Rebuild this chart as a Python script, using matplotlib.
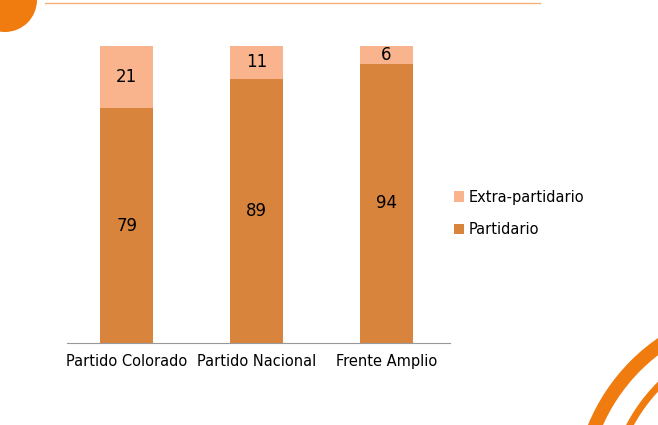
import matplotlib
matplotlib.use("Agg")
import matplotlib.pyplot as plt
from matplotlib.patches import Circle, Arc

parties = ["Partido Colorado", "Partido Nacional", "Frente Amplio"]
partidario = [79, 89, 94]
extra = [21, 11, 6]

C_PART = "#D9843D"
C_EXTRA = "#F9B48E"
ORANGE = "#F07C0F"

fig = plt.figure(figsize=(6.58, 4.25), dpi=100)
fig.patch.set_facecolor("white")

# slide decorations in pixel coordinates
deco = fig.add_axes([0, 0, 1, 1], zorder=0)
deco.set_xlim(0, 658)
deco.set_ylim(425, 0)
deco.axis("off")
deco.add_patch(Circle((5, 0), 32, color=ORANGE, lw=0))
deco.plot([45, 540], [3, 3], color="#F5B27A", lw=1)
for (cx, cy, r, w, c) in [(770, 500, 190, 10, ORANGE),
                          (780, 505, 170, 5, ORANGE),
                          (790, 510, 150, 3, "#F8A65C")]:
    deco.add_patch(Arc((cx, cy), 2 * r, 2 * r, theta1=180, theta2=270,
                       lw=w, color=c))

ax = fig.add_axes([0.102, 0.193, 0.582, 0.699], zorder=1)
ax.patch.set_alpha(0)
x = range(len(parties))
ax.bar(x, partidario, width=0.41, color=C_PART, label="Partidario")
ax.bar(x, extra, width=0.41, bottom=partidario, color=C_EXTRA, label="Extra-partidario")

for i in x:
    ax.text(i, partidario[i] / 2, str(partidario[i]), ha="center", va="center", fontsize=12)
    ax.text(i, partidario[i] + extra[i] / 2, str(extra[i]), ha="center", va="center", fontsize=12)

ax.set_xlim(-0.46, 2.49)
ax.set_ylim(0, 100)
ax.set_xticks(list(x))
ax.set_xticklabels(parties, fontsize=10.5)
ax.tick_params(axis="x", length=0, pad=8)
ax.set_yticks([])
for s in ["top", "right", "left"]:
    ax.spines[s].set_visible(False)
ax.spines["bottom"].set_color("#999999")

h, l = ax.get_legend_handles_labels()
fig.legend(h[::-1], l[::-1], loc="upper left", bbox_to_anchor=(0.67, 0.585),
           frameon=False, fontsize=10.5, handlelength=0.7, handleheight=0.7,
           labelspacing=1.2, handletextpad=0.3)

fig.savefig("out.png", dpi=100)
